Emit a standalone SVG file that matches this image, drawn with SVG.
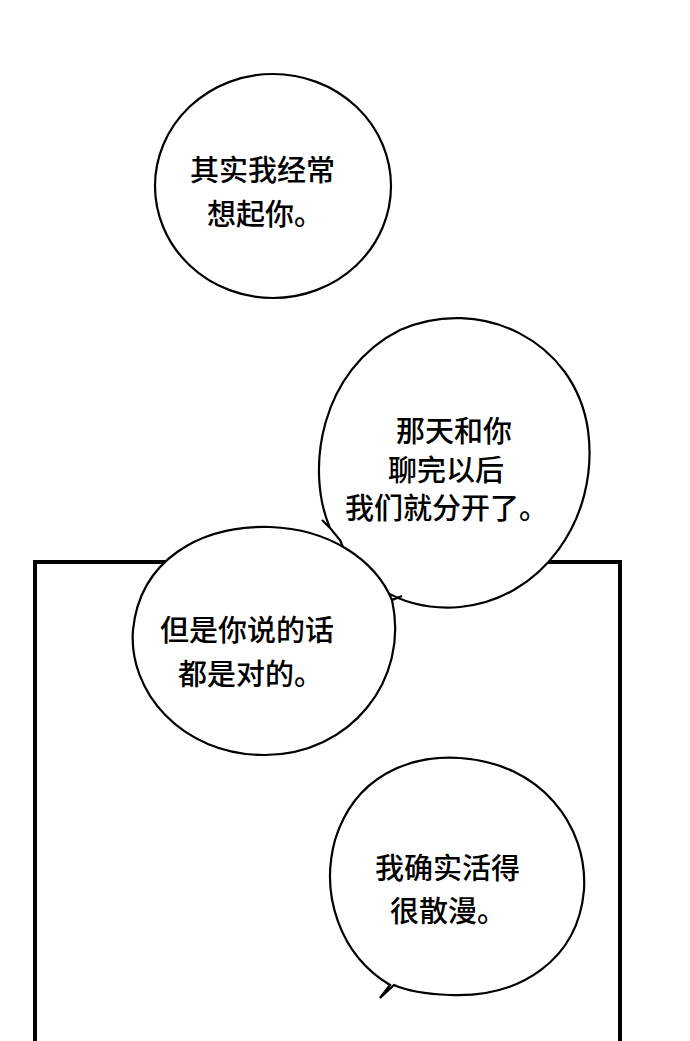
<svg xmlns="http://www.w3.org/2000/svg" width="690" height="1041" viewBox="0 0 690 1041">
<style>
.b{fill:#fff;stroke:#000;stroke-width:2.2}
.t{font-family:"Noto Sans CJK SC",sans-serif;font-size:29px;font-weight:500;fill:#000}
</style>
<rect width="690" height="1041" fill="#fff"/>
<path d="M35,1045 V562 H620 V1045" fill="none" stroke="#000" stroke-width="4"/>
<g id="bubble2">
<path class="b" d="M330,528 C305,470 320,370 400,330 C480,295 575,340 588,430 C600,520 540,600 460,607 C400,612 355,580 340,540 Z M330,528 L322,520"/>
<text class="t" x="396" y="442">那天和你</text>
<text class="t" x="388" y="481">聊完以后</text>
<text class="t" x="345" y="519">我们就分开了。</text>
</g>
<g id="bubble3">
<path class="b" d="M392,600 C410,680 350,755 265,755 C180,755 128,690 133,630 C140,560 200,525 270,527 C330,529 375,560 392,600 L402,596 Z"/>
<text class="t" x="160" y="641">但是你说的话</text>
<text class="t" x="178" y="685">都是对的。</text>
</g>
<g id="bubble1">
<ellipse class="b" cx="273" cy="186" rx="118" ry="112"/>
<text class="t" x="190" y="181">其实我经常</text>
<text class="t" x="207" y="225">想起你。</text>
</g>
<g id="bubble4">
<path class="b" d="M390,985 C340,955 320,895 335,840 C355,775 410,755 460,758 C540,763 588,825 584,890 C578,960 520,998 450,995 C425,994 405,990 394,985 L380,998 Z"/>
<text class="t" x="375" y="879">我确实活得</text>
<text class="t" x="390" y="922">很散漫。</text>
</g>
</svg>
